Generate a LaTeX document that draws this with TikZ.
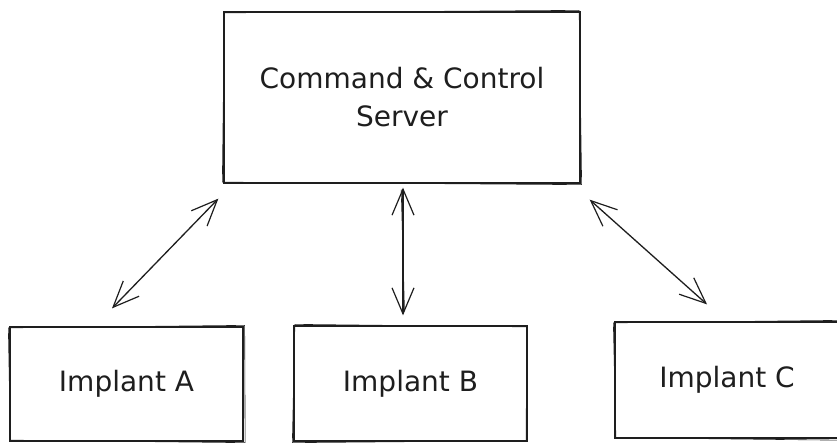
\documentclass[tikz,border=0pt]{standalone}
\usepackage{fontspec}
\setmainfont{DejaVu Sans}
\usetikzlibrary{calc,arrows.meta}
\definecolor{ink}{HTML}{1E1E1E}
\tikzset{
  box/.style={draw=ink, line width=1.3pt, inner sep=0pt, align=center,
    text=ink, font=\fontsize{28}{38}\selectfont},
  rough/.style={draw=ink, line width=0.6pt, line join=round},
  link/.style={draw=ink, line width=1.3pt, line cap=round,
    {Straight Barb[length=26pt, width=22pt, line width=1.2pt]}-{Straight Barb[length=26pt, width=22pt, line width=1.2pt]}},
}
% second, slightly shifted stroke for a hand-drawn look
\newcommand{\roughedge}[5]{%
  \draw[rough] ($(#1.north west)+(#2)$) -- ($(#1.north east)+(#3)$)
    -- ($(#1.south east)+(#4)$) -- ($(#1.south west)+(#5)$) -- cycle;}
\begin{document}
\begin{tikzpicture}[x=1pt, y=-1pt]
  \clip (0,0) rectangle (837,442);
  \fill[white] (0,0) rectangle (837,442);

  % server and implants
  \node[box, minimum width=356pt, minimum height=171pt] (c2) at (402,97.5)
    {Command \& Control\\Server};
  \node[box, minimum width=233pt, minimum height=114pt] (impA) at (126.5,384) {Implant A};
  \node[box, minimum width=233pt, minimum height=115pt] (impB) at (410.5,383.5) {Implant B};
  \node[box, minimum width=224pt, minimum height=116pt] (impC) at (727,380) {Implant C};

  \roughedge{c2}{1,1.5}{-1.5,-1}{1,1}{-1,-1.5}
  \roughedge{impA}{-1,1.5}{1,-1}{1.5,1}{1,-1.5}
  \roughedge{impB}{1.5,-1}{-1,1.5}{-1.5,-1}{-1,1}
  \roughedge{impC}{-1,1.5}{1,-1}{-1,1.5}{1.5,-1}

  % two-way links
  \draw[link] ($(c2.south west)+(-5,15)$) -- ($(impA.north)+(-14.5,-18)$);
  \draw[link] ($(c2.south)+(1,4)$) -- ($(impB.north)+(-7.5,-10)$);
  \draw[rough] ($(c2.south)+(-0.8,6)$) -- ($(impB.north)+(-6,-14)$);
  \draw[link] ($(c2.south east)+(9,16)$) -- ($(impC.north)+(-20,-17)$);
\end{tikzpicture}
\end{document}
